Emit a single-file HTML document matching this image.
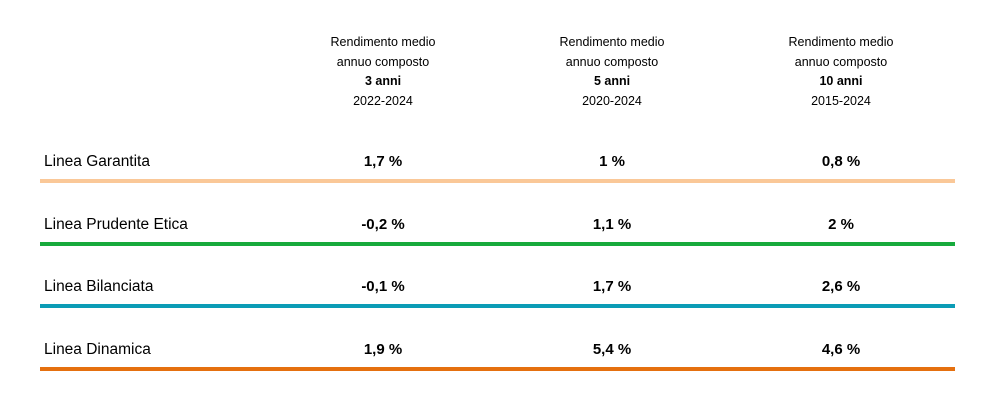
<!DOCTYPE html>
<html>
<head>
<meta charset="utf-8">
<style>
  body{margin:0;background:#fff;}
  #root{position:relative;width:1000px;height:400px;overflow:hidden;font-family:"Liberation Sans",sans-serif;color:#000;}
  .hdr{position:absolute;width:200px;text-align:center;font-size:12.5px;line-height:19.7px;top:33px;}
  .lbl{position:absolute;left:44px;font-size:15.5px;}
  .val{position:absolute;width:160px;text-align:center;font-size:15px;font-weight:bold;}
  .line{position:absolute;left:40px;width:915px;height:4px;}
</style>
</head>
<body>
<div id="root">
  <div class="hdr" style="left:283px">Rendimento medio<br>annuo composto<br><b>3 anni</b><br>2022-2024</div>
  <div class="hdr" style="left:512px">Rendimento medio<br>annuo composto<br><b>5 anni</b><br>2020-2024</div>
  <div class="hdr" style="left:741px">Rendimento medio<br>annuo composto<br><b>10 anni</b><br>2015-2024</div>
</div>
<script>
const lines = ["Linea Garantita","Linea Prudente Etica","Linea Bilanciata","Linea Dinamica"];
const values3 = ["1,7 %","-0,2 %","-0,1 %","1,9 %"];
const values5 = ["1 %","1,1 %","1,7 %","5,4 %"];
const values10 = ["0,8 %","2 %","2,6 %","4,6 %"];
const colors = ["#FAC898","#17AA3C","#0B9CB6","#E5700F"];
const root = document.getElementById('root');
const colX = [383, 612, 841];
for (let i = 0; i < lines.length; i++) {
  const y = 152 + i * 62.7;
  const l = document.createElement('div');
  l.className = 'lbl';
  l.style.top = (y + 1) + 'px';
  l.textContent = lines[i];
  
  
  root.appendChild(l);
  const vals = [values3[i], values5[i], values10[i]];
  for (let j = 0; j < 3; j++) {
    const v = document.createElement('div');
    v.className = 'val';
    v.style.left = (colX[j] - 80) + 'px';
    v.style.top = (y + 1) + 'px';
    v.textContent = vals[j];
    
    
    root.appendChild(v);
  }
  const ln = document.createElement('div');
  ln.className = 'line';
  ln.style.top = (179 + i * 62.7) + 'px';
  ln.style.background = colors[i];
  
  
  root.appendChild(ln);
}
</script>
</body>
</html>
